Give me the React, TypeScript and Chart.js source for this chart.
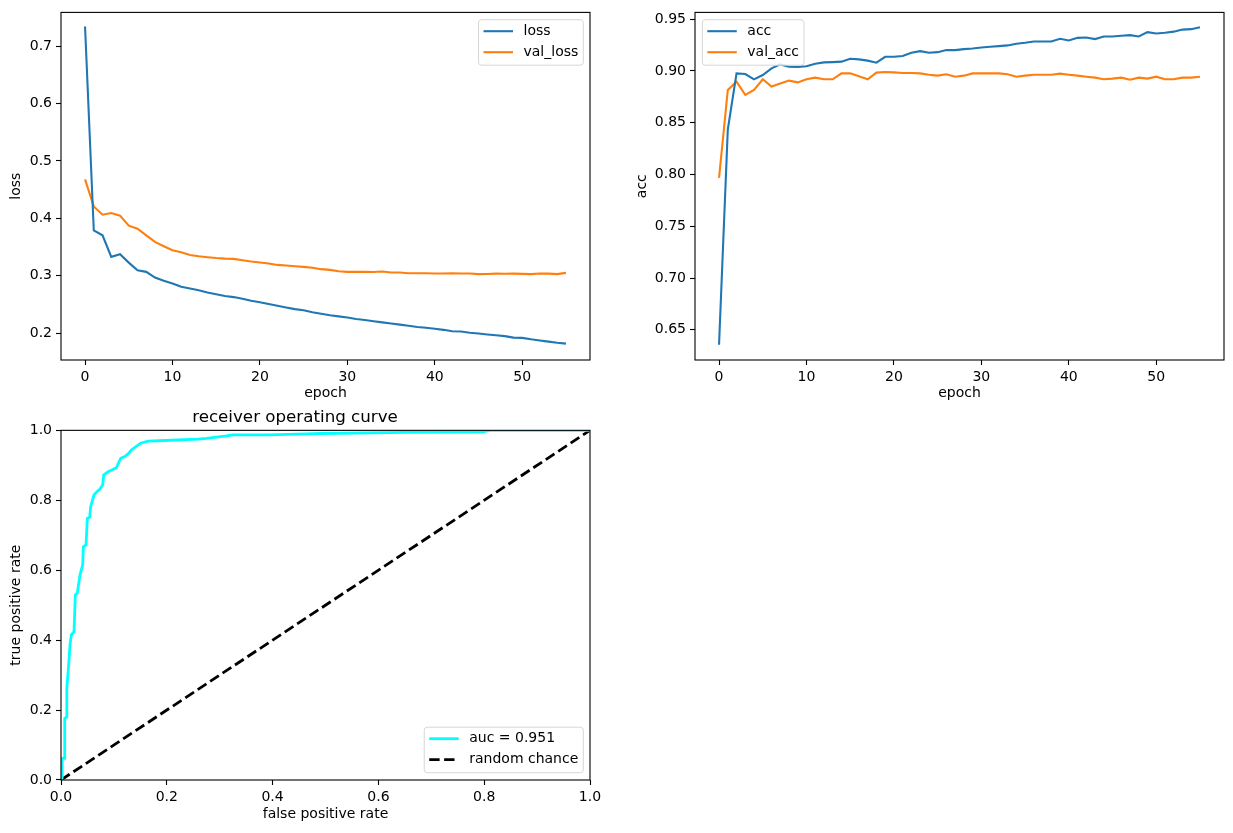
import React, { useEffect, useRef } from 'react';
import { Chart, registerables } from 'chart.js';

Chart.register(...registerables);

const FONT = 'DejaVu Sans';
const BLUE = '#1f77b4';
const ORANGE = '#ff7f0e';
const CYAN = '#00ffff';

const epochs = [0, 1, 2, 3, 4, 5, 6, 7, 8, 9, 10, 11, 12, 13, 14, 15, 16, 17, 18, 19, 20, 21, 22, 23, 24, 25, 26, 27,
  28, 29, 30, 31, 32, 33, 34, 35, 36, 37, 38, 39, 40, 41, 42, 43, 44, 45, 46, 47, 48, 49, 50, 51, 52, 53, 54, 55];

const loss = [0.734, 0.379, 0.3705, 0.333, 0.3376, 0.323, 0.3098, 0.3069, 0.297, 0.2913, 0.2867, 0.281, 0.278, 0.275,
  0.271, 0.268, 0.265, 0.263, 0.26, 0.2566, 0.254, 0.251, 0.248, 0.245, 0.242, 0.24, 0.2365, 0.234, 0.2315, 0.2295,
  0.2275, 0.225, 0.223, 0.221, 0.219, 0.217, 0.215, 0.213, 0.211, 0.2095, 0.208, 0.206, 0.2035, 0.203, 0.201, 0.1995,
  0.198, 0.1965, 0.195, 0.1925, 0.192, 0.1895, 0.1875, 0.1855, 0.1835, 0.182];

const valLoss = [0.468, 0.4208, 0.4064, 0.4092, 0.4047, 0.3873, 0.3821, 0.3705, 0.359, 0.3515, 0.3445, 0.341, 0.3364,
  0.334, 0.3324, 0.331, 0.33, 0.3295, 0.3272, 0.325, 0.3232, 0.3214, 0.319, 0.318, 0.3168, 0.3156, 0.314, 0.3116,
  0.3104, 0.3081, 0.3069, 0.3069, 0.3069, 0.3066, 0.3075, 0.3058, 0.3058, 0.3046, 0.3046, 0.3046, 0.304, 0.304, 0.3042,
  0.3041, 0.304, 0.3029, 0.3033, 0.3038, 0.3036, 0.3038, 0.3034, 0.3029, 0.304, 0.3038, 0.3029, 0.3052];

const acc = [0.6356, 0.8433, 0.8977, 0.8971, 0.8919, 0.8961, 0.9025, 0.9064, 0.9041, 0.904, 0.9045, 0.907, 0.9083,
  0.9086, 0.909, 0.9118, 0.9112, 0.91, 0.908, 0.9137, 0.9138, 0.9144, 0.9176, 0.9192, 0.9176, 0.9182, 0.9202, 0.9202,
  0.9211, 0.9218, 0.9227, 0.9234, 0.924, 0.9247, 0.9263, 0.9272, 0.9285, 0.9285, 0.9285, 0.9311, 0.9295, 0.932, 0.9323,
  0.9308, 0.9333, 0.9333, 0.934, 0.9346, 0.9333, 0.9375, 0.9362, 0.937, 0.938, 0.94, 0.9404, 0.9423];

const valAcc = [0.7967, 0.8817, 0.8897, 0.877, 0.8817, 0.892, 0.885, 0.8878, 0.8907, 0.889, 0.892, 0.8936, 0.892, 0.892,
  0.8977, 0.8977, 0.895, 0.892, 0.8984, 0.899, 0.8987, 0.898, 0.898, 0.8977, 0.8964, 0.8955, 0.8968, 0.8945, 0.8955,
  0.8977, 0.8977, 0.8977, 0.8977, 0.8968, 0.8945, 0.8955, 0.8964, 0.8964, 0.8964, 0.8974, 0.8964, 0.8955, 0.8945,
  0.8936, 0.892, 0.8926, 0.8936, 0.8916, 0.8936, 0.8926, 0.8945, 0.892, 0.892, 0.8936, 0.8936, 0.8945];

const rocFpr = [0, 0.002, 0.002, 0.006, 0.007, 0.01, 0.011, 0.0145, 0.017, 0.0195, 0.0246, 0.0271, 0.0309, 0.0359,
  0.041, 0.0422, 0.0473, 0.0498, 0.0542, 0.0561, 0.0624, 0.0674, 0.0737, 0.0788, 0.0807, 0.0889, 0.0952, 0.1046,
  0.1128, 0.1204, 0.1279, 0.133, 0.1456, 0.1506, 0.1645, 0.196, 0.259, 0.275, 0.313, 0.325, 0.395, 0.464, 0.49, 0.653,
  0.798, 0.81, 1.0];
const rocTpr = [0, 0.005, 0.062, 0.062, 0.176, 0.18, 0.262, 0.329, 0.386, 0.415, 0.424, 0.529, 0.535, 0.586, 0.615,
  0.667, 0.672, 0.748, 0.752, 0.782, 0.815, 0.824, 0.832, 0.844, 0.872, 0.882, 0.886, 0.893, 0.92, 0.925, 0.934, 0.944,
  0.958, 0.963, 0.969, 0.971, 0.975, 0.977, 0.984, 0.987, 0.987, 0.99, 0.991, 0.994, 0.996, 1.0, 1.0];
const chanceX = [0, 1];
const chanceY = [0, 1];

const epochTicks = [0, 10, 20, 30, 40, 50];
const lossTicks = [0.2, 0.3, 0.4, 0.5, 0.6, 0.7];
const accTicks = [0.65, 0.7, 0.75, 0.8, 0.85, 0.9, 0.95];
const rocTicks = [0, 0.2, 0.4, 0.6, 0.8, 1.0];

const aucLabel = 'auc = 0.951';
const chanceLabel = 'random chance';

const framePlugin = {
  id: 'mplFrame',
  afterDatasetsDraw(chart: any) {
    const { ctx, chartArea } = chart;
    ctx.save();
    ctx.strokeStyle = '#000';
    ctx.lineWidth = 1.1;
    ctx.strokeRect(chartArea.left, chartArea.top, chartArea.right - chartArea.left, chartArea.bottom - chartArea.top);
    ctx.restore();
  },
};

function legendPlugin(corner: 'tr' | 'tl' | 'br') {
  return {
    id: 'mplLegend',
    afterDraw(chart: any) {
      const { ctx, chartArea } = chart;
      const ds = chart.data.datasets;
      ctx.save();
      ctx.font = `14px "${FONT}"`;
      const tw = Math.max(...ds.map((d: any) => ctx.measureText(d.label).width));
      const pad = 5;
      const hl = 29.5;
      const hp = 10.5;
      const rowH = 21;
      const w = pad + hl + hp + tw + 5;
      const h = 24.5 + rowH * (ds.length - 1);
      const x = corner.includes('l') ? chartArea.left + 7.3 : chartArea.right - 6.7 - w;
      const y = corner.startsWith('t') ? chartArea.top + 7.3 : chartArea.bottom - 7.3 - h;
      const r = 3;
      ctx.beginPath();
      ctx.moveTo(x + r, y);
      ctx.lineTo(x + w - r, y);
      ctx.quadraticCurveTo(x + w, y, x + w, y + r);
      ctx.lineTo(x + w, y + h - r);
      ctx.quadraticCurveTo(x + w, y + h, x + w - r, y + h);
      ctx.lineTo(x + r, y + h);
      ctx.quadraticCurveTo(x, y + h, x, y + h - r);
      ctx.lineTo(x, y + r);
      ctx.quadraticCurveTo(x, y, x + r, y);
      ctx.closePath();
      ctx.fillStyle = 'rgba(255,255,255,0.8)';
      ctx.fill();
      ctx.strokeStyle = '#d6d6d6';
      ctx.lineWidth = 1;
      ctx.stroke();
      ds.forEach((d: any, i: number) => {
        const cy = y + 11.5 + rowH * i;
        ctx.beginPath();
        ctx.setLineDash(d.borderDash || []);
        ctx.strokeStyle = d.borderColor;
        ctx.lineWidth = d.borderWidth;
        ctx.moveTo(x + pad, cy);
        ctx.lineTo(x + pad + hl, cy);
        ctx.stroke();
        ctx.setLineDash([]);
        ctx.fillStyle = '#000';
        ctx.textBaseline = 'middle';
        ctx.textAlign = 'left';
        ctx.fillText(d.label, x + pad + hl + hp, cy);
      });
      ctx.restore();
    },
  };
}

function axis(opts: {
  min: number; max: number; ticks: number[]; fmt: (v: number) => string; title: string;
  size?: number; titlePad: { top: number; bottom: number }; horizontal: boolean;
}) {
  return {
    type: 'linear',
    min: opts.min,
    max: opts.max,
    afterBuildTicks: (s: any) => { s.ticks = opts.ticks.map((v) => ({ value: v })); },
    afterFit: (s: any) => {
      if (opts.horizontal) s.height = opts.size; else s.width = opts.size;
    },
    ticks: {
      callback: (v: any) => opts.fmt(Number(v)),
      autoSkip: false,
      maxRotation: 0,
      padding: 4,
      color: '#000',
      font: { family: FONT, size: 14 },
    },
    grid: {
      display: true,
      drawOnChartArea: false,
      drawTicks: true,
      tickLength: 5,
      tickColor: '#000',
      tickWidth: 1.1,
      color: '#000',
    },
    border: { display: false },
    title: {
      display: true,
      text: opts.title,
      color: '#000',
      font: { family: FONT, size: 14 },
      padding: opts.titlePad,
    },
  };
}

const f1 = (v: number) => v.toFixed(1);
const f2 = (v: number) => v.toFixed(2);
const f0 = (v: number) => v.toFixed(0);

export default function App() {
  const c1 = useRef<HTMLCanvasElement>(null);
  const c2 = useRef<HTMLCanvasElement>(null);
  const c3 = useRef<HTMLCanvasElement>(null);

  useEffect(() => {
    Chart.defaults.font.family = FONT;
    Chart.defaults.color = '#000';
    const common = {
      responsive: false,
      maintainAspectRatio: false,
      animation: false,
      devicePixelRatio: 1,
      elements: { point: { radius: 0, hoverRadius: 0 }, line: { tension: 0 } },
    };

    const lossChart = new Chart(c1.current!, {
      type: 'line',
      data: {
        datasets: [
          { label: 'loss', data: epochs.map((e, i) => ({ x: e, y: loss[i] })), borderColor: BLUE, borderWidth: 2.1, fill: false },
          { label: 'val_loss', data: epochs.map((e, i) => ({ x: e, y: valLoss[i] })), borderColor: ORANGE, borderWidth: 2.1, fill: false },
        ],
      },
      options: {
        ...common,
        layout: { padding: { left: 0, top: 10, right: 20, bottom: 0 } },
        plugins: { legend: { display: false }, tooltip: { enabled: false } },
        scales: {
          x: axis({ min: -2.75, max: 57.75, ticks: epochTicks, fmt: f0, title: 'epoch', size: 50, titlePad: { top: 0, bottom: 8.2 }, horizontal: true }),
          y: axis({ min: 0.1535, max: 0.7585, ticks: lossTicks, fmt: f1, title: 'loss', size: 61, titlePad: { top: 7.6, bottom: 0 }, horizontal: false }),
        },
      } as any,
      plugins: [framePlugin, legendPlugin('tr')],
    } as any);

    const accChart = new Chart(c2.current!, {
      type: 'line',
      data: {
        datasets: [
          { label: 'acc', data: epochs.map((e, i) => ({ x: e, y: acc[i] })), borderColor: BLUE, borderWidth: 2.1, fill: false },
          { label: 'val_acc', data: epochs.map((e, i) => ({ x: e, y: valAcc[i] })), borderColor: ORANGE, borderWidth: 2.1, fill: false },
        ],
      },
      options: {
        ...common,
        layout: { padding: { left: 0, top: 10, right: 9, bottom: 0 } },
        plugins: { legend: { display: false }, tooltip: { enabled: false } },
        scales: {
          x: axis({ min: -2.75, max: 57.75, ticks: epochTicks, fmt: f0, title: 'epoch', size: 50, titlePad: { top: 0, bottom: 8.2 }, horizontal: true }),
          y: axis({ min: 0.6208, max: 0.9566, ticks: accTicks, fmt: f2, title: 'acc', size: 85, titlePad: { top: 23.6, bottom: 0 }, horizontal: false }),
        },
      } as any,
      plugins: [framePlugin, legendPlugin('tl')],
    } as any);

    const rocChart = new Chart(c3.current!, {
      type: 'line',
      data: {
        datasets: [
          { label: aucLabel, data: rocFpr.map((x, i) => ({ x, y: rocTpr[i] })), borderColor: CYAN, borderWidth: 2.8, fill: false, clip: 0 },
          { label: chanceLabel, data: chanceX.map((x, i) => ({ x, y: chanceY[i] })), borderColor: '#000', borderWidth: 2.8, borderDash: [10.4, 4.5], fill: false, clip: 0 },
        ],
      },
      options: {
        ...common,
        layout: { padding: { left: 0, top: 0, right: 20, bottom: 0 } },
        plugins: {
          legend: { display: false },
          tooltip: { enabled: false },
          title: {
            display: true,
            text: 'receiver operating curve',
            color: '#000',
            font: { family: FONT, size: 16.7, weight: 'normal' },
            padding: { top: 7.5, bottom: 2.8 },
          },
        },
        scales: {
          x: axis({ min: 0, max: 1, ticks: rocTicks, fmt: f1, title: 'false positive rate', size: 53, titlePad: { top: 0, bottom: 10.6 }, horizontal: true }),
          y: axis({ min: 0, max: 1, ticks: rocTicks, fmt: f1, title: 'true positive rate', size: 61, titlePad: { top: 7.6, bottom: 0 }, horizontal: false }),
        },
      } as any,
      plugins: [framePlugin, legendPlugin('br')],
    } as any);

    return () => {
      lossChart.destroy();
      accChart.destroy();
      rocChart.destroy();
    };
  }, []);

  return (
    <div style={{ position: 'fixed', left: 0, top: 0, width: 1233, height: 833, background: '#fff' }}>
      <canvas ref={c1} width={610} height={410} style={{ position: 'absolute', left: 0, top: 0, width: 610, height: 410 }} />
      <canvas ref={c2} width={623} height={410} style={{ position: 'absolute', left: 610, top: 0, width: 623, height: 410 }} />
      <canvas ref={c3} width={610} height={433} style={{ position: 'absolute', left: 0, top: 400, width: 610, height: 433 }} />
    </div>
  );
}
